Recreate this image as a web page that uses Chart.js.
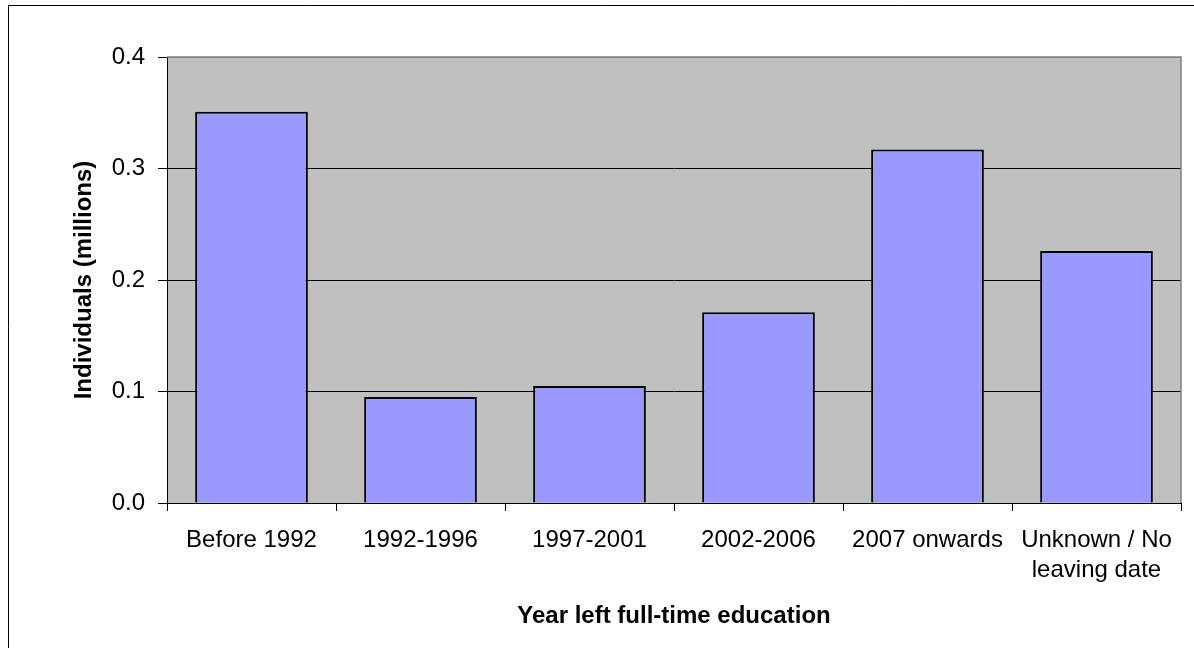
<!DOCTYPE html>
<html>
<head>
<meta charset="utf-8">
<script src="https://cdn.jsdelivr.net/npm/chart.js@4"></script>
<style>
  html, body { margin: 0; padding: 0; background: #fff; overflow: hidden; }
  #wrap { position: absolute; left: 0; top: 0; width: 1194px; height: 648px; }
</style>
</head>
<body>
<div id="wrap"><canvas id="chart" width="1194" height="648"></canvas></div>
<script>
const categories = ['Before 1992', '1992-1996', '1997-2001', '2002-2006', '2007 onwards', ['Unknown / No', 'leaving date']];
const individuals = [0.351, 0.095, 0.105, 0.171, 0.317, 0.226];
const yMin = 0;
const yMax = 0.4;
const yStep = 0.1;

const FONT = '"Liberation Sans", Arial, sans-serif';

// grey plot area, its top/right border and the outer frame
const plotBackground = {
    id: 'plotBackground',
    beforeDraw(chart) {
        const { ctx, chartArea: a } = chart;
        ctx.save();
        ctx.fillStyle = '#c0c0c0';
        ctx.fillRect(a.left, a.top, a.right - a.left, a.bottom - a.top);
        ctx.strokeStyle = '#000';
        ctx.lineWidth = 1;
        ctx.beginPath();
        ctx.moveTo(8.5, 700);
        ctx.lineTo(8.5, 5.5);
        ctx.lineTo(1300, 5.5);
        ctx.stroke();
        ctx.restore();
    },
    afterDatasetsDraw(chart) {
        const { ctx, chartArea: a } = chart;
        ctx.save();
        ctx.strokeStyle = '#808080';
        ctx.lineWidth = 1.5;
        ctx.beginPath();
        ctx.moveTo(a.left, a.top);
        ctx.lineTo(a.right, a.top);
        ctx.lineTo(a.right, a.bottom);
        ctx.stroke();
        ctx.restore();
    }
};

new Chart(document.getElementById('chart').getContext('2d'), {
    type: 'bar',
    data: {
        labels: categories,
        datasets: [{
            label: 'Individuals (millions)',
            data: individuals,
            backgroundColor: '#9999ff',
            borderColor: '#000',
            borderWidth: 2,
            categoryPercentage: 1,
            barPercentage: 0.667
        }]
    },
    options: {
        responsive: false,
        animation: false,
        layout: { padding: { top: 57, right: 13, left: 0, bottom: 0 } },
        plugins: {
            legend: { display: false },
            tooltip: { enabled: false }
        },
        scales: {
            x: {
                grid: {
                    offset: true,
                    drawOnChartArea: false,
                    color: '#000',
                    tickLength: 8
                },
                border: { color: '#000', width: 1 },
                ticks: {
                    color: '#000',
                    padding: 14,
                    maxRotation: 0,
                    autoSkip: false,
                    font: { family: FONT, size: 24, lineHeight: 1.25 }
                },
                title: {
                    display: true,
                    text: 'Year left full-time education',
                    color: '#000',
                    font: { family: FONT, size: 24, weight: 'bold' },
                    padding: { top: 0, bottom: 17 }
                },
                afterFit(scale) { scale.height = 145; }
            },
            y: {
                min: yMin,
                max: yMax,
                grid: {
                    color: ctx => (ctx.tick && ctx.tick.value >= yMax - 1e-9) ? '#808080' : '#000',
                    tickColor: '#000',
                    tickLength: 9,
                    lineWidth: 1
                },
                border: { color: '#000', width: 1 },
                ticks: {
                    stepSize: yStep,
                    color: '#000',
                    padding: 13,
                    font: { family: FONT, size: 24 },
                    callback: v => Number(v).toFixed(1)
                },
                title: {
                    display: true,
                    text: 'Individuals (millions)',
                    color: '#000',
                    font: { family: FONT, size: 24, weight: 'bold' },
                    padding: { top: 70, bottom: 0 }
                },
                afterFit(scale) { scale.width = 167; }
            }
        }
    },
    plugins: [plotBackground]
});
</script>
</body>
</html>
